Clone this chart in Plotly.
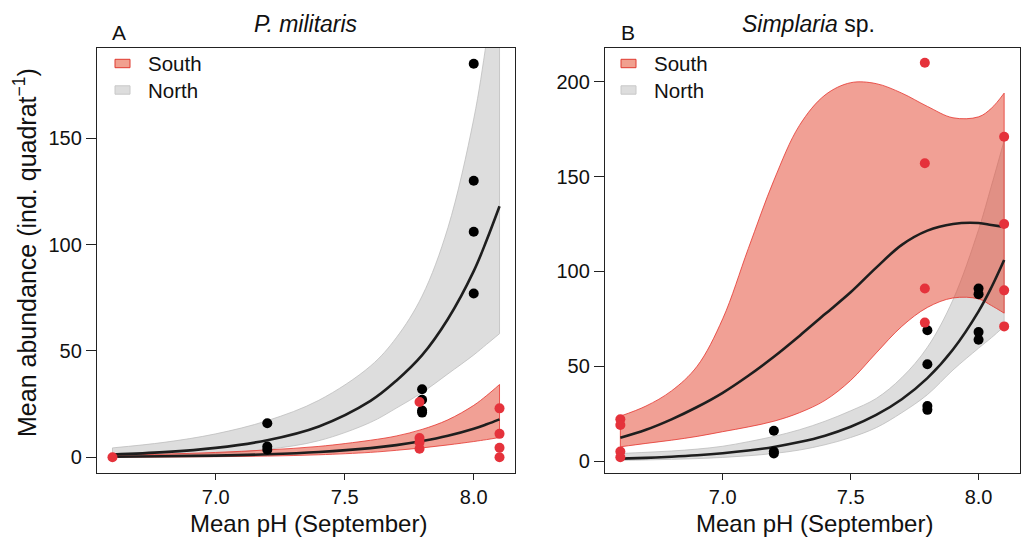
import plotly.graph_objects as go

# ---------------- data ----------------
# Panel A: P. militaris
south_x_A = [6.6, 7.79, 7.79, 7.79, 7.79, 8.1, 8.1, 8.1, 8.1]
south_y_A = [0, 26, 9, 7, 4, 23, 11, 4.5, 0]
north_x_A = [7.2, 7.2, 7.2, 7.8, 7.8, 7.8, 7.8, 8.0, 8.0, 8.0, 8.0]
north_y_A = [16, 5, 3.5, 32, 27, 22, 21, 185, 130, 106, 77]

grid_A = [6.6, 6.8, 7.0, 7.2, 7.4, 7.6, 7.7, 7.8, 7.9, 8.0, 8.05, 8.1]
north_fit_A = [1.3, 2.4, 4.4, 8.0, 14.5, 26.5, 36, 48, 65, 87.5, 102, 118]
north_up_A = [4.4, 7.0, 11.0, 17.2, 26.8, 42.9, 56.2, 75.8, 107.9, 159, 196, 240]
north_lo_A = [0.38, 0.83, 1.76, 3.7, 7.8, 16.4, 23.1, 30.4, 39.2, 48.1, 53.1, 58.1]
south_fit_A = [0.25, 0.44, 0.78, 1.38, 2.45, 4.3, 5.7, 7.6, 10.1, 13.4, 15.5, 17.8]
south_up_A = [1.0, 1.5, 2.26, 3.45, 5.1, 8.0, 10.0, 13.1, 17.6, 24.4, 29.0, 34.2]
south_lo_A = [0.06, 0.13, 0.27, 0.55, 1.17, 2.3, 3.26, 4.4, 5.8, 7.4, 8.3, 9.3]

# Panel B: Simplaria sp.
south_x_B = [6.6, 6.6, 6.6, 6.6, 7.79, 7.79, 7.79, 7.79, 8.1, 8.1, 8.1, 8.1]
south_y_B = [22, 19, 5, 2, 210, 157, 91, 73, 171, 125, 90, 71]
north_x_B = [7.2, 7.2, 7.2, 7.8, 7.8, 7.8, 7.8, 8.0, 8.0, 8.0, 8.0]
north_y_B = [16, 5, 4, 69, 51, 29, 27, 91, 88, 68, 64]

grid_B = [6.6, 6.7, 6.8, 6.9, 7.0, 7.1, 7.2, 7.3, 7.4, 7.5, 7.6, 7.7, 7.8, 7.9, 8.0, 8.05, 8.1]
south_fit_B = [12.3, 16.5, 22, 28.5, 36, 45, 55, 66, 77.5, 89, 102, 114, 121.5, 125, 125.5, 124.5, 123.5]
south_up_B = [23.7, 29, 37, 50, 75, 112, 148, 177, 193, 199.5, 199, 194, 187, 181, 181.5, 186, 194]
south_lo_B = [7.5, 9.3, 11, 13, 15.5, 18, 21, 25.5, 32, 42.5, 57, 71, 81, 86, 85.5, 82, 78]
north_fit_B = [1.27, 1.70, 2.29, 3.07, 4.13, 5.55, 7.45, 10.0, 13.4, 18.1, 24.3, 32.6, 43.7, 58.8, 78.9, 91.5, 106]
north_up_B = [4.0, 4.6, 5.3, 6.3, 7.8, 10.2, 13.0, 16.5, 21, 26.5, 33, 44, 60, 85, 122, 145, 169]
north_lo_B = [0.4, 0.6, 0.9, 1.3, 1.9, 2.8, 4.0, 5.8, 8.6, 12.4, 17.6, 25.5, 35, 48, 59.5, 65, 71]

x_tickvals = [7.0, 7.5, 8.0]
x_ticktext = ["7.0", "7.5", "8.0"]
y_tickvals_A = [0, 50, 100, 150]
y_tickvals_B = [0, 50, 100, 150, 200]

panel_titles = ["<i>P. militaris</i>", "<i>Simplaria</i> sp."]
panel_letters = ["A", "B"]
legend_labels = ["South", "North"]
x_title = "Mean pH (September)"
y_title = "Mean abundance (ind. quadrat<sup>−1</sup>)"

# ---------------- styles ----------------
FONT = "Liberation Sans, Arial, Helvetica, sans-serif"
RED_PT = "#E5323B"
RED_FILL = "rgba(229,72,52,0.52)"
RED_EDGE = "#E5352E"
GRAY_FILL = "#DDDDDD"
GRAY_EDGE = "#BEBEBE"
LINE = "#1E1E1E"
W, H = 1021, 539

fig = go.Figure()


def band(grid, lo, up, fill, edge, xa, ya):
    fig.add_trace(go.Scatter(x=grid, y=lo, mode="lines", line=dict(color=edge, width=0.8, shape="spline"),
                             xaxis=xa, yaxis=ya, hoverinfo="skip", showlegend=False))
    fig.add_trace(go.Scatter(x=grid, y=up, mode="lines", line=dict(color=edge, width=0.8, shape="spline"),
                             fill="tonexty", fillcolor=fill, xaxis=xa, yaxis=ya, hoverinfo="skip",
                             showlegend=False))
    for i in (0, -1):
        fig.add_trace(go.Scatter(x=[grid[i], grid[i]], y=[lo[i], up[i]], mode="lines",
                                 line=dict(color=edge, width=0.8), xaxis=xa, yaxis=ya,
                                 hoverinfo="skip", showlegend=False))


def panel(grid, nf, nu, nl, sf, su, sl, nx, ny, sx, sy, xa, ya):
    band(grid, nl, nu, GRAY_FILL, GRAY_EDGE, xa, ya)
    band(grid, sl, su, RED_FILL, RED_EDGE, xa, ya)
    for f in (nf, sf):
        fig.add_trace(go.Scatter(x=grid, y=f, mode="lines", line=dict(color=LINE, width=2.6, shape="spline"),
                                 xaxis=xa, yaxis=ya, showlegend=False))
    fig.add_trace(go.Scatter(x=nx, y=ny, mode="markers", marker=dict(color="black", size=10),
                             xaxis=xa, yaxis=ya, showlegend=False))
    fig.add_trace(go.Scatter(x=sx, y=sy, mode="markers", marker=dict(color=RED_PT, size=10),
                             xaxis=xa, yaxis=ya, showlegend=False))


panel(grid_A, north_fit_A, north_up_A, north_lo_A, south_fit_A, south_up_A, south_lo_A,
      north_x_A, north_y_A, south_x_A, south_y_A, "x", "y")
panel(grid_B, north_fit_B, north_up_B, north_lo_B, south_fit_B, south_up_B, south_lo_B,
      north_x_B, north_y_B, south_x_B, south_y_B, "x2", "y2")

ydom = [1 - 473 / H, 1 - 48 / H]
common_x = dict(range=[6.54, 8.16], tickvals=x_tickvals, ticktext=x_ticktext, showgrid=False,
                zeroline=False, showline=True, mirror=True, linecolor="#222", linewidth=1.3,
                ticks="outside", ticklen=6, tickwidth=1.2, tickcolor="#222",
                tickfont=dict(size=20, color="#111", family=FONT))
common_y = dict(showgrid=False, zeroline=False, showline=True, mirror=True, linecolor="#222",
                linewidth=1.3, ticks="outside", ticklen=10, tickwidth=1.2, tickcolor="#222",
                tickfont=dict(size=20, color="#111", family=FONT), domain=ydom)

fig.update_layout(
    width=W, height=H, margin=dict(l=0, r=0, t=0, b=0),
    paper_bgcolor="white", plot_bgcolor="white", showlegend=False,
    font=dict(family=FONT, color="#111"),
    xaxis=dict(domain=[97 / W, 515 / W], anchor="y", **common_x),
    yaxis=dict(range=[-7.4, 192.4], tickvals=y_tickvals_A, anchor="x", **common_y),
    xaxis2=dict(domain=[605 / W, 1019.5 / W], anchor="y2", **common_x),
    yaxis2=dict(range=[-6.3, 217.8], tickvals=y_tickvals_B, anchor="x2", **common_y),
)


def px(xp):
    return xp / W


def py(yp):
    return 1 - yp / H


ann = []
# titles, letters, axis titles
for i, (title, letter) in enumerate(zip(panel_titles, panel_letters)):
    cx = [306, 808][i]
    lx = [110, 619][i]
    ann.append(dict(x=px(cx), y=py(24), text=title, xanchor="center", yanchor="middle",
                    font=dict(size=23, family=FONT, color="#111")))
    ann.append(dict(x=px(lx), y=py(32.5), text=letter, xanchor="left", yanchor="middle",
                    font=dict(size=21, family=FONT, color="#111")))
    ann.append(dict(x=px([308, 814][i]), y=0, text=x_title, xanchor="center",
                    yanchor="bottom", font=dict(size=24, family=FONT, color="#111")))
ann.append(dict(x=px(25), y=py(253), text=y_title, textangle=-90, xanchor="center",
                yanchor="middle", font=dict(size=25, family=FONT, color="#111")))

# legends
shapes = []
for i in range(2):
    rx = [115, 621][i]
    tx = [146, 652][i]
    for j, (lab, fc, ec) in enumerate(zip(legend_labels, ["#F1A08F", GRAY_FILL], ["#E03A30", "#C8C8C8"])):
        cy = [63.5, 90][j]
        shapes.append(dict(type="rect", xref="paper", yref="paper", x0=px(rx), x1=px(rx + 15),
                           y0=py(cy - 4.2), y1=py(cy + 4.2), fillcolor=fc, line=dict(color=ec, width=1)))
        ann.append(dict(x=px(tx), y=py(cy), text=lab, xanchor="left", yanchor="middle",
                        font=dict(size=20.5, family=FONT, color="#111")))

for a in ann:
    a.update(xref="paper", yref="paper", showarrow=False)

fig.update_layout(annotations=ann, shapes=shapes)
fig.write_html("out.html", config={"displayModeBar": False},
               post_script="document.body.style.margin='0';document.body.style.padding='0';")
